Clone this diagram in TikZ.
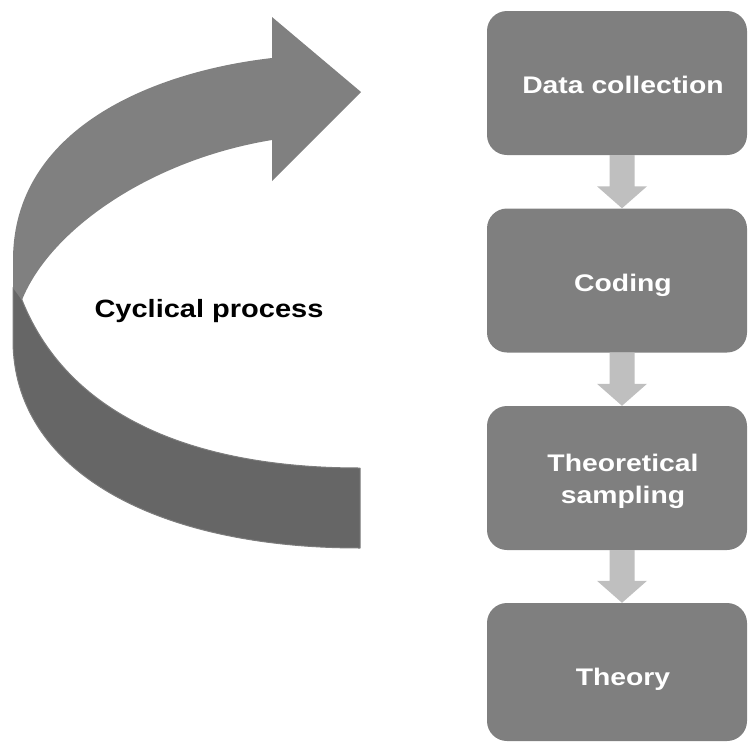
\documentclass[tikz,border=0pt]{standalone}
\usepackage{fontspec}
\usepackage{graphicx}
\setmainfont{Liberation Sans}
\usetikzlibrary{calc}

\definecolor{boxgray}{RGB}{127,127,127}
\definecolor{ribbonfront}{RGB}{128,128,128}
\definecolor{ribbonback}{RGB}{102,102,102}
\definecolor{ribbonedge}{RGB}{124,124,124}
\definecolor{stepgray}{RGB}{191,191,191}

% horizontally widened bold lettering
\newcommand\widetext[2][1.18]{\scalebox{#1}[1]{#2}}

% block arrow from the bottom of one stage box to the top of the next
\newcommand\stepdown[2]{%
  \fill[stepgray]
    ($(#1.south)+(-7.5,0)$) -- ($(#2.north)+(-7.5,-22)$) --
    ($(#2.north)+(-20,-22)$) -- ($(#2.north)+(5,0)$) --
    ($(#2.north)+(30,-22)$) -- ($(#2.north)+(17.5,-22)$) --
    ($(#1.south)+(17.5,0)$) -- cycle;}

\begin{document}
\begin{tikzpicture}[x=1pt,y=-1pt,
  stagebox/.style={fill=boxgray, draw=none, rounded corners=20pt,
    minimum width=260pt, minimum height=144pt, inner sep=0pt},
  stagetext/.style={text=white, font=\bfseries\fontsize{24}{32}\selectfont,
    align=center, anchor=base, inner sep=0pt},
  ]
\useasboundingbox (0,0) rectangle (748,742);

% back side of the twisted ribbon (lower half)
\filldraw[fill=ribbonback, draw=ribbonedge, line width=1pt, line join=round]
  (14,286) -- (22,300)
  .. controls (70,420) and (200,468) .. (360,468)
  -- (360,548)
  .. controls (155,548) and (13,470) .. (13,340)
  -- (13,288) -- cycle;

% front side of the ribbon with its arrowhead
\fill[ribbonfront]
  (272,58) .. controls (150,72) and (13,130) .. (13,260)
  -- (13,288) -- (22,300)
  .. controls (50,230) and (150,160) .. (272,140)
  -- (272,181) -- (361,92) -- (272,17) -- cycle;

\node[font=\bfseries\fontsize{25}{30}\selectfont, anchor=base, inner sep=0pt]
  (cycle) at (209,317) {\widetext[1.16]{Cyclical process}};

% stage boxes
\node[stagebox] (b1) at (617,83) {};
\node[stagebox] (b2) at (617,280.5) {};
\node[stagebox] (b3) at (617,478) {};
\node[stagebox, minimum height=138pt] (b4) at (617,672) {};

% arrows between stages
\stepdown{b1}{b2}
\stepdown{b2}{b3}
\stepdown{b3}{b4}

% stage labels (base anchor sits on the last line)
\node[stagetext] (t1) at ($(b1.north)+(6,83)$) {\widetext{Data collection}};
\node[stagetext] (t2) at ($(b2.north)+(6,83)$) {\widetext{Coding}};
\node[stagetext] (t3) at ($(b3.north)+(6,98)$) {\widetext{Theoretical}\\\widetext{sampling}};
\node[stagetext] (t4) at ($(b4.north)+(6,83)$) {\widetext{Theory}};
\end{tikzpicture}
\end{document}
